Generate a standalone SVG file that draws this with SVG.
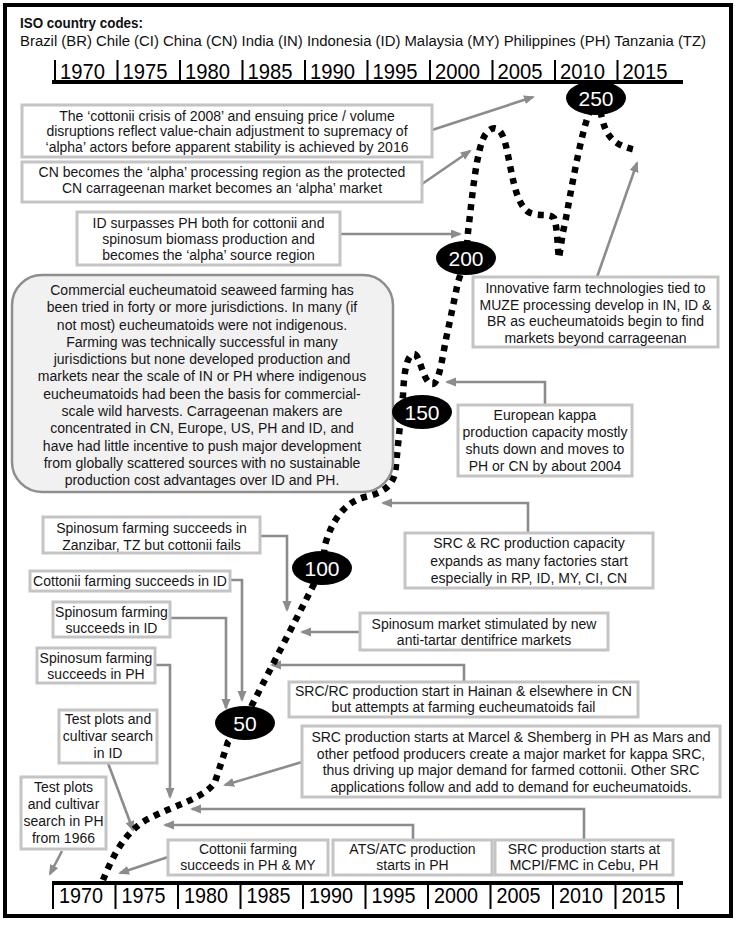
<svg xmlns="http://www.w3.org/2000/svg" width="740" height="927" viewBox="0 0 740 927">
<defs>
<marker id="arr" markerUnits="userSpaceOnUse" markerWidth="12" markerHeight="10" refX="9" refY="4.5" orient="auto">
<path d="M0,0 L11,4.5 L0,9 z" fill="#8c8c8c"/>
</marker>
</defs>
<style>
.t{font-family:"Liberation Sans",Arial,sans-serif;font-size:14px;fill:#161616;text-anchor:middle}
.box{fill:#fff;stroke:#c4c4c4;stroke-width:3}
.con{fill:none;stroke:#8c8c8c;stroke-width:2.6;marker-end:url(#arr)}
.yr{font-family:"Liberation Sans",Arial,sans-serif;font-size:21.5px;fill:#000}
.tick{stroke:#000;stroke-width:2}
.num{font-family:"Liberation Sans",Arial,sans-serif;font-size:21px;fill:#fff;text-anchor:middle}
</style>
<rect x="5" y="5" width="726" height="911" fill="#fff" stroke="#000" stroke-width="4"/>

<g id="header">
<text x="20" y="28" font-family="Liberation Sans, Arial, sans-serif" font-size="15" font-weight="bold" fill="#111" textLength="123" lengthAdjust="spacingAndGlyphs">ISO country codes:</text>
<text x="20" y="46" font-family="Liberation Sans, Arial, sans-serif" font-size="15.5" fill="#111" textLength="686" lengthAdjust="spacingAndGlyphs">Brazil (BR) Chile (CI) China (CN) India (IN) Indonesia (ID) Malaysia (MY) Philippines (PH) Tanzania (TZ)</text>
</g>

<g id="timeline-top">
<line x1="52" y1="82" x2="683" y2="82" stroke="#000" stroke-width="4"/>
<line class="tick" x1="55" y1="60" x2="55" y2="82"/><text class="yr" x="60" y="79" textLength="45" lengthAdjust="spacingAndGlyphs">1970</text>
<line class="tick" x1="117.5" y1="60" x2="117.5" y2="82"/><text class="yr" x="122.5" y="79" textLength="45" lengthAdjust="spacingAndGlyphs">1975</text>
<line class="tick" x1="180" y1="60" x2="180" y2="82"/><text class="yr" x="185" y="79" textLength="45" lengthAdjust="spacingAndGlyphs">1980</text>
<line class="tick" x1="242.5" y1="60" x2="242.5" y2="82"/><text class="yr" x="247.5" y="79" textLength="45" lengthAdjust="spacingAndGlyphs">1985</text>
<line class="tick" x1="305" y1="60" x2="305" y2="82"/><text class="yr" x="310" y="79" textLength="45" lengthAdjust="spacingAndGlyphs">1990</text>
<line class="tick" x1="367.5" y1="60" x2="367.5" y2="82"/><text class="yr" x="372.5" y="79" textLength="45" lengthAdjust="spacingAndGlyphs">1995</text>
<line class="tick" x1="430" y1="60" x2="430" y2="82"/><text class="yr" x="435" y="79" textLength="45" lengthAdjust="spacingAndGlyphs">2000</text>
<line class="tick" x1="492.5" y1="60" x2="492.5" y2="82"/><text class="yr" x="497.5" y="79" textLength="45" lengthAdjust="spacingAndGlyphs">2005</text>
<line class="tick" x1="555" y1="60" x2="555" y2="82"/><text class="yr" x="560" y="79" textLength="45" lengthAdjust="spacingAndGlyphs">2010</text>
<line class="tick" x1="617.5" y1="60" x2="617.5" y2="82"/><text class="yr" x="622.5" y="79" textLength="45" lengthAdjust="spacingAndGlyphs">2015</text>
</g>

<g id="timeline-bottom">
<line x1="52" y1="883" x2="683" y2="883" stroke="#000" stroke-width="4"/>
<line class="tick" x1="53" y1="883" x2="53" y2="909"/><text class="yr" x="59" y="903" textLength="44" lengthAdjust="spacingAndGlyphs">1970</text>
<line class="tick" x1="115.5" y1="883" x2="115.5" y2="909"/><text class="yr" x="121.5" y="903" textLength="44" lengthAdjust="spacingAndGlyphs">1975</text>
<line class="tick" x1="178" y1="883" x2="178" y2="909"/><text class="yr" x="184" y="903" textLength="44" lengthAdjust="spacingAndGlyphs">1980</text>
<line class="tick" x1="240.5" y1="883" x2="240.5" y2="909"/><text class="yr" x="246.5" y="903" textLength="44" lengthAdjust="spacingAndGlyphs">1985</text>
<line class="tick" x1="303" y1="883" x2="303" y2="909"/><text class="yr" x="309" y="903" textLength="44" lengthAdjust="spacingAndGlyphs">1990</text>
<line class="tick" x1="365.5" y1="883" x2="365.5" y2="909"/><text class="yr" x="371.5" y="903" textLength="44" lengthAdjust="spacingAndGlyphs">1995</text>
<line class="tick" x1="428" y1="883" x2="428" y2="909"/><text class="yr" x="434" y="903" textLength="44" lengthAdjust="spacingAndGlyphs">2000</text>
<line class="tick" x1="490.5" y1="883" x2="490.5" y2="909"/><text class="yr" x="496.5" y="903" textLength="44" lengthAdjust="spacingAndGlyphs">2005</text>
<line class="tick" x1="553" y1="883" x2="553" y2="909"/><text class="yr" x="559" y="903" textLength="44" lengthAdjust="spacingAndGlyphs">2010</text>
<line class="tick" x1="615.5" y1="883" x2="615.5" y2="909"/><text class="yr" x="621.5" y="903" textLength="44" lengthAdjust="spacingAndGlyphs">2015</text>
<line class="tick" x1="678" y1="883" x2="678" y2="909"/>
</g>

<g id="connectors">
<path class="con" d="M432,130 L533,97"/>
<path class="con" d="M422,184 L470,151"/>
<path class="con" d="M340,234 L460,234"/>
<path class="con" d="M597,277 L637,163"/>
<path class="con" d="M545,405 V382 H447"/>
<path class="con" d="M528,533 V503 H383"/>
<path class="con" d="M260,536 H287 V610"/>
<path class="con" d="M230,580 H242 V700"/>
<path class="con" d="M170,618 H226 V708"/>
<path class="con" d="M155,665 H170 V797"/>
<path class="con" d="M108,763 L133,830"/>
<path class="con" d="M62,851 L50,874"/>
<path class="con" d="M168,857 L120,873"/>
<path class="con" d="M413,840 V825 H165"/>
<path class="con" d="M584,840 V809 H192"/>
<path class="con" d="M302,762 L225,785"/>
<path class="con" d="M464,682 V665 H272"/>
<path class="con" d="M360,632 H302"/>
</g>

<g id="volume-curve">
<path d="M103,880 C112,858 125,830 150,818 C175,805 205,798 215,782 L228,742 L245,723 L252,705 L310,592 L322,568 L325,545 C332,520 345,502 365,497 C385,492 395,485 396,465 L400,425 L403,395 C404,375 406,355 414,354 C420,354 423,383 432,384 C440,385 443,350 448,330 L458,282 L466,258 L468,232 C472,200 476,150 485,135 C492,125 500,125 505,142 C512,170 514,200 527,211 C537,218 548,212 554,218 C558,230 557,245 559,258 L563,232 L566,218 C572,185 580,140 588,116 L596,96 L602,118 C606,135 612,145 636,150" fill="none" stroke="#000" stroke-width="6.5" stroke-dasharray="6 6"/>
</g>

<g id="box-crisis2008">
<rect class="box" x="22" y="105" width="410" height="52"/>
<text class="t" x="227" y="120.5">The ‘cottonii crisis of 2008’ and ensuing price / volume</text>
<text class="t" x="227" y="136">disruptions reflect value-chain adjustment to supremacy of</text>
<text class="t" x="227" y="151.5">‘alpha’ actors before apparent stability is achieved by 2016</text>
</g>
<g id="box-cn-alpha">
<rect class="box" x="22" y="162" width="400" height="40"/>
<text class="t" x="222" y="177">CN becomes the ‘alpha’ processing region as the protected</text>
<text class="t" x="222" y="193">CN carrageenan market becomes an ‘alpha’ market</text>
</g>
<g id="box-id-surpasses">
<rect class="box" x="77" y="212" width="263" height="53"/>
<text class="t" x="208.5" y="228">ID surpasses PH both for cottonii and</text>
<text class="t" x="208.5" y="244">spinosum biomass production and</text>
<text class="t" x="208.5" y="260">becomes the ‘alpha’ source region</text>
</g>
<g id="box-commercial">
<rect x="12" y="275" width="381" height="217" rx="30" fill="#f1f1f1" stroke="#8e8e8e" stroke-width="2.5"/>
<text class="t" x="202" y="295">Commercial eucheumatoid seaweed farming has</text>
<text class="t" x="202" y="312.3">been tried in forty or more jurisdictions. In many (if</text>
<text class="t" x="202" y="329.5">not most) eucheumatoids were not indigenous.</text>
<text class="t" x="202" y="346.8">Farming was technically successful in many</text>
<text class="t" x="202" y="364.1">jurisdictions but none developed production and</text>
<text class="t" x="202" y="381.4">markets near the scale of IN or PH where indigenous</text>
<text class="t" x="202" y="398.6">eucheumatoids had been the basis for commercial-</text>
<text class="t" x="202" y="415.9">scale wild harvests. Carrageenan makers are</text>
<text class="t" x="202" y="433.2">concentrated in CN, Europe, US, PH and ID, and</text>
<text class="t" x="202" y="450.5">have had little incentive to push major development</text>
<text class="t" x="202" y="467.7">from globally scattered sources with no sustainable</text>
<text class="t" x="202" y="485">production cost advantages over ID and PH.</text>
</g>
<g id="box-innovative">
<rect class="box" x="473" y="277" width="245" height="70"/>
<text class="t" x="595.5" y="293">Innovative farm technologies tied to</text>
<text class="t" x="595.5" y="309.7">MUZE processing develop in IN, ID &amp;</text>
<text class="t" x="595.5" y="326.3">BR as eucheumatoids begin to find</text>
<text class="t" x="595.5" y="343">markets beyond carrageenan</text>
</g>
<g id="box-european">
<rect class="box" x="458" y="405" width="174" height="71"/>
<text class="t" x="545" y="419.5">European kappa</text>
<text class="t" x="545" y="436.5">production capacity mostly</text>
<text class="t" x="545" y="453.5">shuts down and moves to</text>
<text class="t" x="545" y="470.5">PH or CN by about 2004</text>
</g>
<g id="box-src-rc">
<rect class="box" x="405" y="533" width="248" height="55"/>
<text class="t" x="529" y="548">SRC &amp; RC production capacity</text>
<text class="t" x="529" y="565.5">expands as many factories start</text>
<text class="t" x="529" y="583">especially in RP, ID, MY, CI, CN</text>
</g>
<g id="box-zanzibar">
<rect class="box" x="43" y="517" width="217" height="36"/>
<text class="t" x="151.5" y="533">Spinosum farming succeeds in</text>
<text class="t" x="151.5" y="549.5">Zanzibar, TZ but cottonii fails</text>
</g>
<g id="box-cottonii-id">
<rect class="box" x="30" y="571" width="200" height="20"/>
<text class="t" x="130" y="586">Cottonii farming succeeds in ID</text>
</g>
<g id="box-spinosum-id">
<rect class="box" x="53" y="602" width="117" height="35"/>
<text class="t" x="111.5" y="617">Spinosum farming</text>
<text class="t" x="111.5" y="633">succeeds in ID</text>
</g>
<g id="box-spinosum-ph">
<rect class="box" x="37" y="648" width="118" height="35"/>
<text class="t" x="96" y="663">Spinosum farming</text>
<text class="t" x="96" y="679">succeeds in PH</text>
</g>
<g id="box-test-id">
<rect class="box" x="59" y="710" width="98" height="53"/>
<text class="t" x="108" y="724">Test plots and</text>
<text class="t" x="108" y="741">cultivar search</text>
<text class="t" x="108" y="758">in ID</text>
</g>
<g id="box-test-ph">
<rect class="box" x="21" y="777" width="85" height="72"/>
<text class="t" x="63.5" y="792">Test plots</text>
<text class="t" x="63.5" y="809">and cultivar</text>
<text class="t" x="63.5" y="826">search in PH</text>
<text class="t" x="63.5" y="843">from 1966</text>
</g>
<g id="box-cottonii-ph-my">
<rect class="box" x="168" y="840" width="160" height="35"/>
<text class="t" x="248" y="854">Cottonii farming</text>
<text class="t" x="248" y="870">succeeds in PH &amp; MY</text>
</g>
<g id="box-ats-atc">
<rect class="box" x="333" y="840" width="159" height="35"/>
<text class="t" x="412.5" y="854">ATS/ATC production</text>
<text class="t" x="412.5" y="870">starts in PH</text>
</g>
<g id="box-mcpi">
<rect class="box" x="495" y="840" width="178" height="35"/>
<text class="t" x="584" y="854">SRC production starts at</text>
<text class="t" x="584" y="870">MCPI/FMC in Cebu, PH</text>
</g>
<g id="box-marcel">
<rect class="box" x="302" y="726" width="418" height="71"/>
<text class="t" x="511" y="742">SRC production starts at Marcel &amp; Shemberg in PH as Mars and</text>
<text class="t" x="511" y="758.7">other petfood producers create a major market for kappa SRC,</text>
<text class="t" x="511" y="775.3">thus driving up major demand for farmed cottonii. Other SRC</text>
<text class="t" x="511" y="792">applications follow and add to demand for eucheumatoids.</text>
</g>
<g id="box-hainan">
<rect class="box" x="289" y="682" width="349" height="35"/>
<text class="t" x="463.5" y="696">SRC/RC production start in Hainan &amp; elsewhere in CN</text>
<text class="t" x="463.5" y="712">but attempts at farming eucheumatoids fail</text>
</g>
<g id="box-dentifrice">
<rect class="box" x="360" y="613" width="248" height="37"/>
<text class="t" x="484" y="629">Spinosum market stimulated by new</text>
<text class="t" x="484" y="645">anti-tartar dentifrice markets</text>
</g>

<g id="marker-250"><ellipse cx="596" cy="98" rx="30" ry="17" fill="#000"/><text class="num" x="596" y="105.5">250</text></g>
<g id="marker-200"><ellipse cx="466" cy="258" rx="30" ry="17" fill="#000"/><text class="num" x="466" y="265.5">200</text></g>
<g id="marker-150"><ellipse cx="422" cy="412" rx="30" ry="17" fill="#000"/><text class="num" x="422" y="419.5">150</text></g>
<g id="marker-100"><ellipse cx="322" cy="568" rx="30" ry="17" fill="#000"/><text class="num" x="322" y="575.5">100</text></g>
<g id="marker-50"><ellipse cx="245" cy="723" rx="30" ry="17" fill="#000"/><text class="num" x="245" y="730.5">50</text></g>
</svg>
